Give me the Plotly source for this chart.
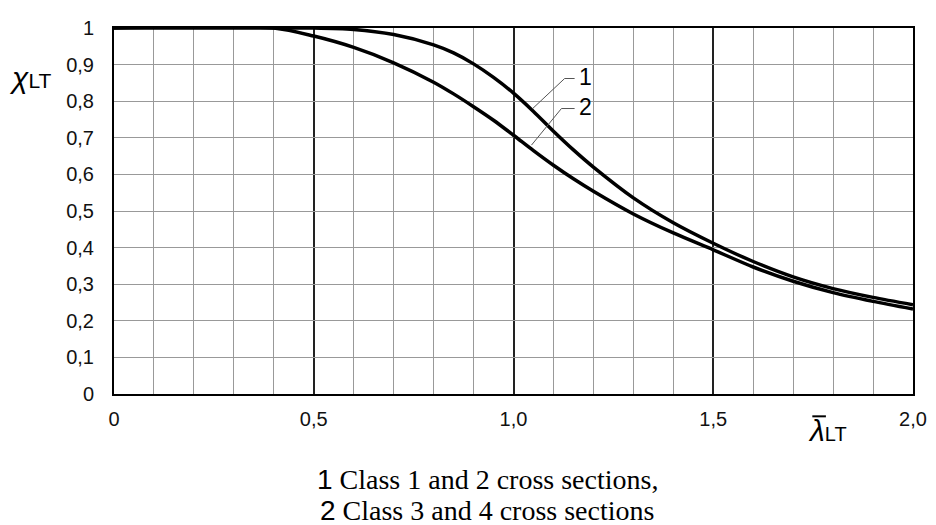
import plotly.graph_objects as go

# slenderness values and reduction factors
lam = [0.0, 0.4, 0.5, 0.6, 0.7, 0.8, 0.85, 0.9, 0.95, 1.0, 1.05, 1.1, 1.15, 1.2, 1.3, 1.4, 1.5, 1.6, 1.7, 1.8, 1.9, 2.0]
chi_curve1 = [1.0, 1.0, 1.0, 0.996, 0.982, 0.954, 0.932, 0.902, 0.865, 0.822, 0.772, 0.718, 0.667, 0.62,
              0.536, 0.468, 0.412, 0.362, 0.32, 0.288, 0.264, 0.244]
chi_curve2 = [1.0, 1.0, 0.978, 0.947, 0.905, 0.852, 0.82, 0.785, 0.748, 0.707, 0.665, 0.625, 0.588, 0.554,
              0.492, 0.44, 0.394, 0.347, 0.308, 0.277, 0.253, 0.232]

x_tickvals = [0, 0.5, 1.0, 1.5, 2.0]
x_ticktext = ["0", "0,5", "1,0", "1,5", "2,0"]
y_tickvals = [0, 0.1, 0.2, 0.3, 0.4, 0.5, 0.6, 0.7, 0.8, 0.9, 1.0]
y_ticktext = ["0", "0,1", "0,2", "0,3", "0,4", "0,5", "0,6", "0,7", "0,8", "0,9", "1"]

curve_labels = ["1", "2"]
# leader lines: point on curve -> knee -> end near the label
leader1 = ([1.048, 1.128, 1.153], [0.78, 0.862, 0.862])
leader2 = ([1.045, 1.12, 1.153], [0.68, 0.78, 0.78])

caption_lines = ["<span style='font-family:Liberation Sans'>1</span> Class 1 and 2 cross sections,",
                 "<span style='font-family:Liberation Sans'>2</span> Class 3 and 4 cross sections"]

fig = go.Figure()
for yy in [chi_curve1, chi_curve2]:
    fig.add_trace(go.Scatter(x=lam, y=yy, mode="lines", line=dict(color="black", width=3.5, shape="spline", smoothing=0.8),
                             showlegend=False, hoverinfo="skip"))
for ld in [leader1, leader2]:
    fig.add_trace(go.Scatter(x=ld[0], y=ld[1], mode="lines", line=dict(color="#555", width=1),
                             showlegend=False, hoverinfo="skip"))

fig.add_annotation(x=leader1[0][2], y=leader1[1][2], text=curve_labels[0], showarrow=False,
                   xanchor="left", font=dict(size=23, color="black"), xshift=2, yshift=2)
fig.add_annotation(x=leader2[0][2], y=leader2[1][2], text=curve_labels[1], showarrow=False,
                   xanchor="left", font=dict(size=23, color="black"), xshift=2, yshift=2)

# axis titles
fig.add_annotation(x=-0.105, y=0.865, xref="paper", yref="paper", showarrow=False, xanchor="center", yanchor="middle",
                   text="<span style='font-size:30px'><i>χ</i></span>LT", font=dict(size=21, color="black"))
fig.add_annotation(x=0.866, y=-0.05, xref="paper", yref="paper", showarrow=False, xanchor="left", yanchor="top",
                   text="<span style='font-size:30px'><i>λ</i></span><span style='font-size:20px'>LT</span>",
                   font=dict(size=20, color="black"))
fig.add_shape(type="line", xref="paper", yref="paper", x0=0.874, x1=0.891, y0=-0.061, y1=-0.061,
              line=dict(color="black", width=2))

for yy, txt in zip([-0.233, -0.318], caption_lines):
    fig.add_annotation(x=0.467, y=yy, xref="paper", yref="paper", showarrow=False, yanchor="middle",
                       text=txt, font=dict(family="Liberation Serif", size=28, color="black"))

fig.update_xaxes(range=[0, 2], tickvals=x_tickvals, ticktext=x_ticktext, showgrid=True, gridcolor="#222",
                 gridwidth=1.5, minor=dict(dtick=0.1, showgrid=True, gridcolor="#999", gridwidth=1),
                 showline=True, linecolor="black", linewidth=2, mirror=True, zeroline=False,
                 ticks="", ticklabelstandoff=6, tickfont=dict(size=20, color="#111"))
fig.update_yaxes(range=[0, 1], tickvals=y_tickvals, ticktext=y_ticktext, showgrid=True, gridcolor="#999",
                 gridwidth=1, showline=True, linecolor="black", linewidth=2, mirror=True, zeroline=False,
                 ticks="", ticklabelstandoff=14, tickfont=dict(size=20, color="#111"))

# page body has an 8px margin, so the figure is drawn 8px in from the corner
fig.update_layout(width=928, height=517, margin=dict(l=106, r=23, t=9, b=131),
                  plot_bgcolor="white", paper_bgcolor="white",
                  font=dict(family="Liberation Sans", color="black"))

fig.write_html("out.html")
